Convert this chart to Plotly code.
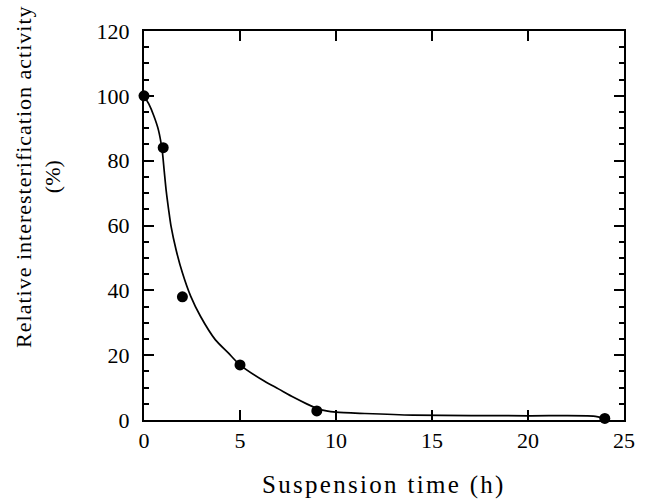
import plotly.graph_objects as go

# measured points
time_h = [0, 1, 2, 5, 9, 24]
activity = [100, 84, 38, 17, 2.8, 0.5]

# fitted curve
curve_x = [0, 0.25, 0.5, 0.75, 0.95, 1.05, 1.16, 1.28, 1.41, 1.67, 2.0, 2.43, 2.94, 3.71, 4.39, 4.98, 6.26, 7.0, 7.79, 8.5, 9.0, 9.5, 10, 11.5, 14, 20, 23.4, 24]
curve_y = [100, 97.5, 94, 89.5, 83, 77, 70.5, 65, 59.7, 52.5, 45.4, 38.2, 32, 24.8, 20.7, 17.1, 12, 9.6, 7.0, 4.9, 3.6, 2.8, 2.4, 2.0, 1.5, 1.3, 1.2, 0.5]

xticks = [0, 5, 10, 15, 20, 25]
yticks = [0, 20, 40, 60, 80, 100, 120]

FONT = "Liberation Serif"

fig = go.Figure()
fig.add_trace(go.Scatter(x=curve_x, y=curve_y, mode="lines",
                         line=dict(color="black", width=1.7, shape="spline", smoothing=0.7),
                         hoverinfo="skip", showlegend=False))
fig.add_trace(go.Scatter(x=time_h, y=activity, mode="markers",
                         marker=dict(color="black", size=11),
                         showlegend=False, cliponaxis=False))

axis_common = dict(showline=True, linecolor="black", linewidth=2, mirror="ticks",
                   ticks="inside", tickcolor="black", tickwidth=2, ticklen=10,
                   showgrid=False, zeroline=False,
                   tickfont=dict(family=FONT, size=22, color="black"))

fig.update_xaxes(range=[0, 25], tickvals=xticks, ticktext=[str(v) for v in xticks], **axis_common)
fig.update_yaxes(range=[0, 120], tickvals=yticks, ticktext=[str(v) for v in yticks],
                 ticklabelstandoff=8,
                 minor=dict(dtick=5, ticks="inside", ticklen=5, tickwidth=2, tickcolor="black"),
                 **axis_common)

fig.add_annotation(text='<span style="letter-spacing:2.3px">Suspension time (h)</span>',
                   xref="paper", yref="paper", x=0.5, y=0, yshift=-65,
                   xanchor="center", yanchor="middle",
                   showarrow=False, font=dict(family=FONT, size=25, color="black"))
fig.add_annotation(text='<span style="letter-spacing:1px">Relative interesterification activity</span><br>(%)',
                   xref="paper", yref="paper", x=0, xshift=-106, y=0.625, textangle=-90,
                   xanchor="center", yanchor="middle",
                   showarrow=False, font=dict(family=FONT, size=22, color="black"))

fig.update_layout(width=647, height=500, margin=dict(l=144, r=13, t=31, b=80),
                  plot_bgcolor="white", paper_bgcolor="white")
fig.write_html("out.html")
